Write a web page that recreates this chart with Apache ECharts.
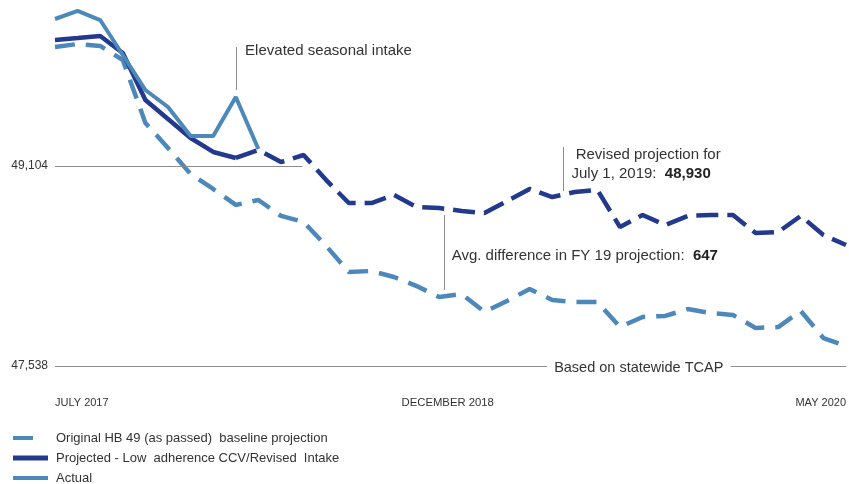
<!DOCTYPE html>
<html><head><meta charset="utf-8">
<script src="https://cdn.jsdelivr.net/npm/echarts@6/dist/echarts.min.js"></script>
<style>html,body{margin:0;padding:0;background:#fff}#c{width:849px;height:484px}</style>
</head><body><div id="c"></div>
<script>
// Monthly index 0 = July 2017
const actual = [50255, 50318, 50247, 49973, 49699, 49566, 49339, 49339, 49644, 49237];
const projected = [50091, 50106, 50122, 49989, 49621, 49472, 49323, 49214, 49167, 49229,
  49135, 49190, 48994, 48814, 48814, 48877, 48783, 48775, 48752, 48736,
  48830, 48924, 48861, 48900, 48916, 48626, 48720, 48642, 48713, 48720,
  48720, 48579, 48587, 48713, 48564, 48485];
const baseline = [50036, 50059, 50044, 49934, 49441, 49245, 49041, 48924, 48799, 48838,
  48713, 48666, 48478, 48274, 48282, 48235, 48164, 48078, 48102, 47961,
  48047, 48141, 48055, 48039, 48039, 47843, 47922, 47930, 47984, 47953,
  47937, 47836, 47843, 47969, 47757, 47695];
const xTickIndex = [0, 17, 35];
const xTickLabels = ['JULY 2017', 'DECEMBER 2018', 'MAY 2020'];
const yTicks = [47538, 49104];
const names = ['Original HB 49 (as passed)  baseline projection', 'Projected - Low  adherence CCV/Revised  Intake', 'Actual'];

const FONT = 'Liberation Sans, Arial, Helvetica, sans-serif';
const C_LIGHT = '#4d88bb';
const C_DARK = '#22398d';
const GRAY = '#8c8c8c';

const pairs = arr => arr.map((v, i) => [i, v]);
const projSolidEnd = 8;
const projSolid = projected.slice(0, projSolidEnd + 1).map((v, i) => [i, v]);
const projDash = projected.map((v, i) => [i, v]).slice(projSolidEnd);

const yMin = yTicks[0];
const yStep = yTicks[1] - yTicks[0];
const yMax = yMin + yStep * 366 / 200;

const chart = echarts.init(document.getElementById('c'), null, {renderer: 'canvas'});
chart.setOption({
  animation: false,
  backgroundColor: '#fff',
  grid: {left: 55, right: 1, top: 0, bottom: 118, containLabel: false},
  xAxis: {
    type: 'value', min: 0, max: projected.length - 1, interval: 1,
    axisLine: {show: false}, axisTick: {show: false}, splitLine: {show: false},
    axisLabel: {
      margin: 31, fontSize: 11, color: '#333', fontFamily: FONT,
      alignMinLabel: 'left', alignMaxLabel: 'right',
      formatter: v => {
        const k = xTickIndex.indexOf(v);
        if (k < 0) return '';
        return k === 1 ? '{m|' + xTickLabels[k] + '}' : xTickLabels[k];
      },
      rich: {m: {fontSize: 11.3, color: '#333', fontFamily: FONT, padding: [0, 0, 0, 17]}}
    }
  },
  yAxis: {
    type: 'value', min: yMin, max: yMax, interval: yStep,
    axisLine: {show: false}, axisTick: {show: false}, splitLine: {show: false},
    axisLabel: {
      margin: 7, fontSize: 12, color: '#333', fontFamily: FONT, showMaxLabel: false,
      formatter: v => yTicks.includes(v) ? v.toLocaleString('en-US') : ''
    }
  },
  legend: {
    orient: 'vertical', left: 8, top: 426, height: 80, itemWidth: 35, itemHeight: 5, itemGap: 6,
    textStyle: {fontSize: 13, color: '#333', fontFamily: FONT, lineHeight: 14, padding: [0, 0, 0, 3]},
    data: [
      {name: names[0], icon: 'path://M0 0.5H20V4.5H0Z M34.99 0H35V0.01H34.99Z M0 4.99H0.01V5H0Z'},
      {name: names[1], icon: 'rect'},
      {name: names[2], icon: 'path://M0 0.5H35V4.5H0Z M0 0H0.01V0.01H0Z M0 4.99H0.01V5H0Z'}
    ]
  },
  series: [
    {
      name: names[0], type: 'line', data: pairs(baseline), showSymbol: false, symbol: 'none',
      itemStyle: {color: C_LIGHT},
      lineStyle: {color: C_LIGHT, width: 4.5, type: [20, 11], cap: 'butt'},
      z: 2
    },
    {
      name: names[1], type: 'line', data: projSolid, showSymbol: false, symbol: 'none',
      itemStyle: {color: C_DARK},
      lineStyle: {color: C_DARK, width: 4.5},
      z: 3
    },
    {
      name: 'projected-continued', type: 'line', data: projDash, showSymbol: false, symbol: 'none',
      itemStyle: {color: C_DARK},
      lineStyle: {color: C_DARK, width: 4.5, type: [22, 9], cap: 'butt'},
      z: 3
    },
    {
      name: names[2], type: 'line', data: pairs(actual), showSymbol: false, symbol: 'none',
      itemStyle: {color: C_LIGHT},
      lineStyle: {color: C_LIGHT, width: 4},
      z: 4,
      markLine: {
        silent: true, symbol: ['none', 'none'], label: {show: false},
        lineStyle: {color: GRAY, width: 1, type: 'solid'},
        data: [
          [{coord: [0, 49104]}, {coord: [10.95, 49104]}],
          [{coord: [0, 47538]}, {coord: [21.77, 47538]}],
          [{coord: [29.9, 47538]}, {coord: [35, 47538]}],
          [{coord: [8.04, 49699]}, {coord: [8.04, 50036]}],
          [{coord: [22.47, 48908]}, {coord: [22.47, 49253]}],
          [{coord: [17.22, 48133]}, {coord: [17.22, 48720]}]
        ]
      },
      markPoint: {
        silent: true, symbol: 'rect', symbolSize: 1,
        itemStyle: {color: 'rgba(0,0,0,0)'},
        label: {show: true, position: 'right', distance: 0, fontSize: 15, color: '#333', fontFamily: FONT},
        data: [
          {coord: [8.39, 50004], value: 0, label: {formatter: 'Elevated seasonal intake'}},
          {coord: [22.83, 49115], value: 0, label: {
            lineHeight: 19,
            formatter: ' Revised projection for\nJuly 1, 2019:  {b|48,930}',
            rich: {b: {fontWeight: 'bold', fontSize: 15, color: '#222', fontFamily: FONT, lineHeight: 19}}
          }},
          {coord: [17.53, 48399], value: 0, label: {
            formatter: 'Avg. difference in FY 19 projection:  {b|647}',
            rich: {b: {fontWeight: 'bold', fontSize: 15, color: '#222', fontFamily: FONT}}
          }},
          {coord: [25.83, 47538], value: 0, label: {position: 'inside', offset: [0, 2], fontSize: 14.5, formatter: 'Based on statewide TCAP'}}
        ]
      }
    }
  ]
});
</script></body></html>
